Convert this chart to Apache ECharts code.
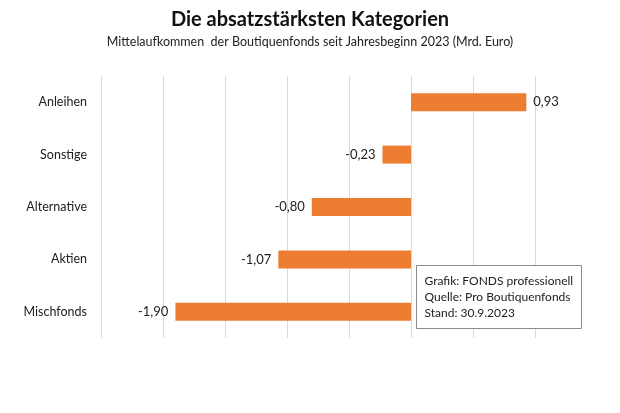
<!DOCTYPE html>
<html>
<head>
<meta charset="utf-8">
<script src="https://cdn.jsdelivr.net/npm/echarts@6/dist/echarts.min.js"></script>
<style>html,body{margin:0;padding:0;background:#fff;}#c{width:620px;height:413px;}</style>
</head>
<body>
<div id="c"></div>
<script>
const categories = ['Anleihen', 'Sonstige', 'Alternative', 'Aktien', 'Mischfonds'];
const values = [0.93, -0.23, -0.80, -1.07, -1.90];
const titleText = 'Die absatzstärksten Kategorien';
const subtitleText = 'Mittelaufkommen  der Boutiquenfonds seit Jahresbeginn 2023 (Mrd. Euro)';
const noteLines = ['Grafik: FONDS professionell', 'Quelle: Pro Boutiquenfonds', 'Stand: 30.9.2023'];

const FONT = 'Lato, "Open Sans", sans-serif';
const chart = echarts.init(document.getElementById('c'));
chart.setOption({
  animation: false,
  backgroundColor: '#fff',
  title: {
    text: titleText,
    subtext: subtitleText,
    left: 'center',
    top: 5,
    itemGap: 5,
    textStyle: {fontFamily: FONT, fontSize: 20, fontWeight: 'bold', color: '#111'},
    subtextStyle: {fontFamily: FONT, fontSize: 12.5, color: '#222'}
  },
  grid: {left: 101, right: 85, top: 76, bottom: 75},
  xAxis: {
    type: 'value', min: -2.5, max: 1.0, interval: 0.5,
    axisLabel: {show: false}, axisLine: {show: false}, axisTick: {show: false},
    splitLine: {lineStyle: {color: '#d9d9d9', width: 1}}
  },
  yAxis: {
    type: 'category', data: categories, inverse: true,
    axisLine: {show: false}, axisTick: {show: false},
    position: 'left',
    axisLabel: {fontFamily: FONT, fontSize: 12.5, color: '#222', margin: 14}
  },
  series: [{
    type: 'bar',
    data: values.map(v => ({
      value: v,
      label: {position: v >= 0 ? 'right' : 'left'}
    })),
    barWidth: 18,
    itemStyle: {color: '#ED7D31'},
    label: {
      show: true, distance: 7,
      fontFamily: FONT, fontSize: 13, color: '#222',
      formatter: p => p.value.toFixed(2).replace('.', ',')
    }
  }],
  graphic: [{
    type: 'group', left: 416, top: 265, z: 100,
    children: [
      {type: 'rect', z: 100, shape: {x: 0, y: 0, width: 165, height: 63},
       style: {fill: '#fff', stroke: '#8c8c8c', lineWidth: 1}},
      {type: 'text', z: 101, left: 8, top: 8,
       style: {text: noteLines.join('\n'), fontFamily: FONT, fontSize: 12, lineHeight: 16, fill: '#222'}}
    ]
  }]
});
</script>
</body>
</html>
